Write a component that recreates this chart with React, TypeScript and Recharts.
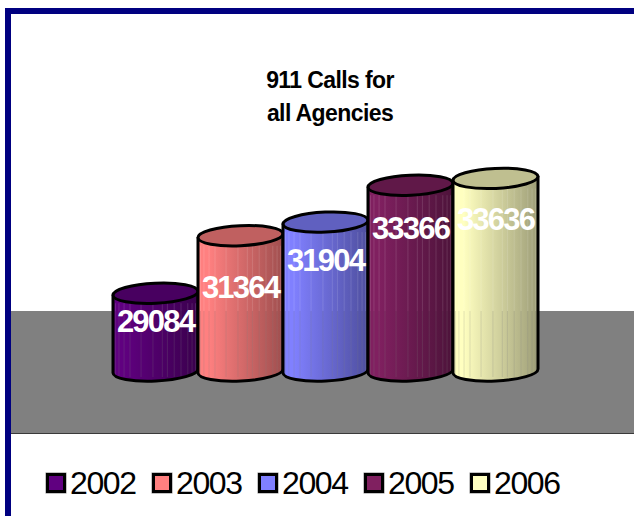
import React from "react";
import { BarChart, Bar, XAxis, YAxis, Legend, LabelList } from "recharts";

const years = ["2002", "2003", "2004", "2005", "2006"];
const calls = [29084, 31364, 31904, 33366, 33636];
const sideColors = ["#600080", "#FF8080", "#8080FF", "#802060", "#FFFFC0"];
const shadeColors = ["#3A004D", "#A04F4F", "#4F4F9F", "#4D133A", "#9E9E78"];
const topColors = ["#480060", "#C06060", "#6060C0", "#601848", "#BFBF90"];
const labelDrops = [28, 51, 38, 43, 41];
const streaks = [0.03, 0.07, 0.13, 0.2, 0.33, 0.47, 0.58, 0.64, 0.72, 0.8, 0.88, 0.93, 0.97];

const row: Record<string, string | number> = { name: "911 Calls" };
years.forEach((y, i) => { row["y" + y] = calls[i]; });
const data = [row];

const FLOOR_Y = 311;
const FONT = "'Liberation Sans', Arial, sans-serif";

function makeCylinder(i: number) {
  return function Cylinder(props: any) {
    const { x, y, width, height } = props;
    const rx = width / 2;
    const ry = 10;
    const tilt = 2;
    const left = x;
    const right = x + width;
    const cx = x + rx;
    const bottom = y + height;
    const body = `M${left},${y + tilt} L${left},${bottom + tilt} A${rx},${ry} -2.7 0 0 ${right},${bottom - tilt} L${right},${y - tilt} Z`;
    return (
      <g>
        <path d={body} fill={`url(#cyl${i})`} stroke="none" />
        {streaks.map((f) => {
          const sx = left + f * width;
          const ty = y + ry;
          return (
            <g key={f}>
              {ty < FLOOR_Y && <line x1={sx} x2={sx} y1={ty} y2={FLOOR_Y} stroke="#ffffff" strokeOpacity={0.13} strokeWidth={1} />}
              <line x1={sx} x2={sx} y1={Math.max(ty, FLOOR_Y)} y2={bottom + 6} stroke="#808080" strokeOpacity={0.22} strokeWidth={1} />
            </g>
          );
        })}
        <path d={body} fill="none" stroke="#000" strokeWidth={3} strokeLinejoin="round" />
        <ellipse cx={cx} cy={y} rx={rx} ry={ry} transform={`rotate(-2.7 ${cx} ${y})`} fill={topColors[i]} stroke="#000" strokeWidth={3} />
      </g>
    );
  };
}

function makeLabel(i: number) {
  return function ValueLabel(props: any) {
    const { x, y, width, value } = props;
    return (
      <text
        x={x + width / 2}
        y={y + labelDrops[i] + 11}
        textAnchor="middle"
        fill="#fff"
        fontFamily={FONT}
        fontWeight="bold"
        fontSize={31}
        letterSpacing={-1.8}
      >
        {value}
      </text>
    );
  };
}

function LegendRow() {
  return (
    <div style={{ display: "flex", fontFamily: FONT, fontSize: 32, lineHeight: "34px", color: "#000" }}>
      {years.map((y, i) => (
        <div key={y} style={{ width: 106, display: "flex", alignItems: "center" }}>
          <span
            style={{
              width: 14,
              height: 14,
              background: sideColors[i],
              border: "3px solid #000",
              boxShadow: "0 0 0 0.5px #888",
              marginRight: 4,
              display: "inline-block",
              flex: "none",
            }}
          />
          <span style={{ letterSpacing: -1.4 }}>{y}</span>
        </div>
      ))}
    </div>
  );
}

export default function App() {
  return (
    <div style={{ position: "absolute", left: 0, top: 0, width: 634, height: 516, overflow: "hidden", background: "#fff" }}>
      <div style={{ position: "absolute", left: 5, top: 8, width: 629, height: 6, background: "#000080" }} />
      <div style={{ position: "absolute", left: 5, top: 8, width: 6, height: 508, background: "#000080" }} />
      <div style={{ position: "absolute", left: 11, top: 311, width: 623, height: 122, background: "#808080", borderBottom: "1px solid #3a3a3a" }} />
      <div
        style={{
          position: "absolute",
          left: 180,
          top: 64,
          width: 300,
          textAlign: "center",
          fontFamily: FONT,
          fontWeight: "bold",
          fontSize: 23,
          lineHeight: "33px",
          letterSpacing: -0.6,
          color: "#000",
        }}
      >
        911 Calls for
        <br />
        all Agencies
      </div>
      <div style={{ position: "absolute", left: 0, top: 0 }}>
        <BarChart
          width={634}
          height={516}
          data={data}
          barCategoryGap="0%"
          barGap="0%"
          margin={{ top: 144, right: 94, bottom: 145, left: 113 }}
        >
          <defs>
            {years.map((y, i) => (
              <linearGradient key={y} id={`cyl${i}`} x1="0" y1="0" x2="1" y2="0">
                <stop offset="0.12" stopColor={sideColors[i]} />
                <stop offset="1" stopColor={shadeColors[i]} />
              </linearGradient>
            ))}
          </defs>
          <XAxis dataKey="name" hide />
          <YAxis hide domain={[26000, 35000]} />
          <Legend
            layout="horizontal"
            verticalAlign="middle"
            align="center"
            content={() => <LegendRow />}
            wrapperStyle={{ position: "absolute", left: 46, top: 466, width: 560, height: 34 }}
          />
          {years.map((y, i) => (
            <Bar key={y} dataKey={"y" + y} isAnimationActive={false} shape={makeCylinder(i)} fill={sideColors[i]}>
              <LabelList dataKey={"y" + y} content={makeLabel(i)} />
            </Bar>
          ))}
        </BarChart>
      </div>
    </div>
  );
}
